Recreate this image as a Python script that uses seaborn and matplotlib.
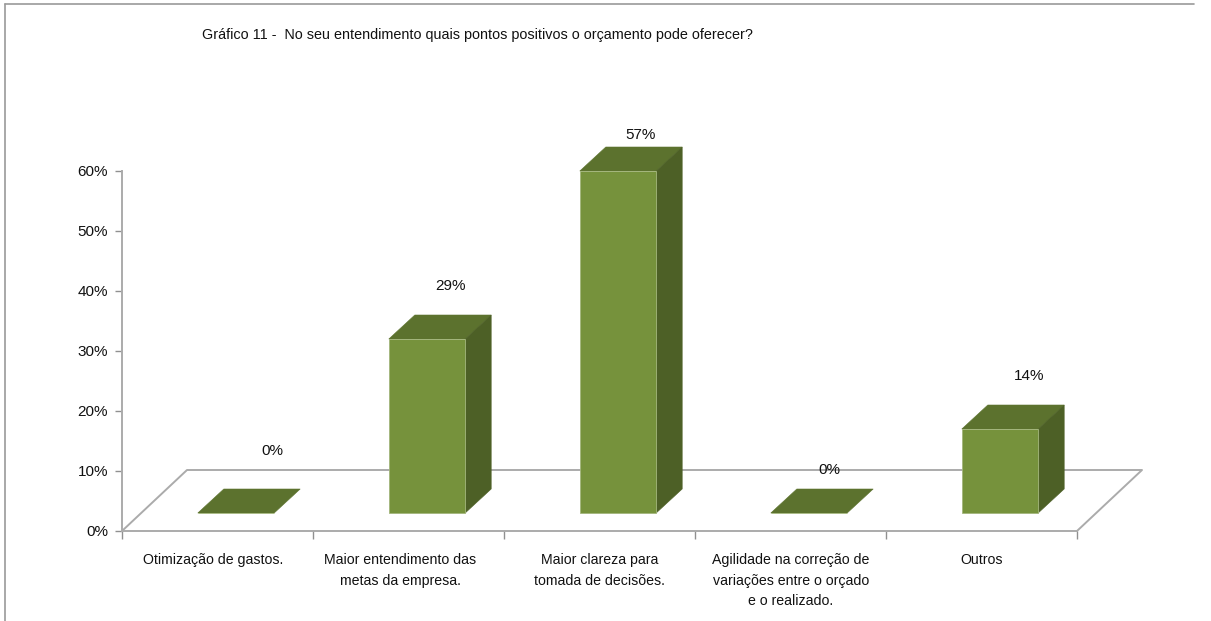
import matplotlib
matplotlib.use("Agg")
import matplotlib.pyplot as plt
from matplotlib.patches import Polygon
from matplotlib.ticker import FixedLocator
import pandas as pd
import seaborn as sns

# Survey answers, in percent
categories = [
    "Otimização de gastos.",
    "Maior entendimento das\nmetas da empresa.",
    "Maior clareza para\ntomada de decisões.",
    "Agilidade na correção de\nvariações entre o orçado\ne o realizado.",
    "Outros",
]
values = [0, 29, 57, 0, 14]
y_ticks = [0, 10, 20, 30, 40, 50, 60]
chart_title = "Gráfico 11 -  No seu entendimento quais pontos positivos o orçamento pode oferecer?"

sns.set_theme(style="white")
plt.rcParams["font.family"] = ["Liberation Sans", "DejaVu Sans"]

W, H = 1211, 621
fig = plt.figure(figsize=(W / 100, H / 100), dpi=100, facecolor="white")

# Axes rectangle follows the front edge of the floor and the vertical axis
left, right, top, bottom = 122, 1077, 171, 531
ax = fig.add_axes([left / W, 1 - bottom / H, (right - left) / W, (bottom - top) / H])
ax.patch.set_alpha(0)

FRONT, TOP, SIDE = "#76923c", "#5c722e", "#4d6026"
EDGE = "#a3b67c"
AXIS = "#ababab"
TEXT = "#111111"

px_x = 191.0                 # pixels per category
px_y = 6.0                   # pixels per percentage point
depth_x = 26 / px_x          # bar depth in data units
depth_y = 24 / px_y
floor_x = 65 / px_x          # floor depth in data units
floor_y = 61 / px_y
bar_lift = 18 / px_y         # bars stand slightly behind the front edge
x0 = -114 / px_x             # left limit, which puts the first bar off-centre in its slot

df = pd.DataFrame({"categoria": categories, "percentual": values})
sns.barplot(
    data=df, x="categoria", y="percentual", color=FRONT, saturation=1,
    width=0.40, bottom=bar_lift, ax=ax, edgecolor=EDGE, linewidth=0.6, zorder=5,
)
ax.set_xlim(x0, x0 + 5)
ax.set_ylim(0, 60)
ax.set_xlabel("")
ax.set_ylabel("")

# Floor: back edge and the two receding side edges
floor_style = dict(color=AXIS, lw=1.4, clip_on=False, zorder=2, solid_capstyle="round")
ax.plot([x0, x0 + floor_x, x0 + 5 + floor_x, x0 + 5],
        [0, floor_y, floor_y, 0], **floor_style)

# Extruded top and side faces, built from each drawn bar
for patch in list(ax.patches):
    x, y = patch.get_x(), patch.get_y()
    w, h = patch.get_width(), patch.get_height()
    top_face = [(x, y + h), (x + w, y + h), (x + w + depth_x, y + h + depth_y), (x + depth_x, y + h + depth_y)]
    ax.add_patch(Polygon(top_face, closed=True, fc=TOP, ec=TOP, lw=0.4, clip_on=False, zorder=4))
    if h > 0:
        side_face = [(x + w, y), (x + w + depth_x, y + depth_y), (x + w + depth_x, y + h + depth_y), (x + w, y + h)]
        ax.add_patch(Polygon(side_face, closed=True, fc=SIDE, ec=SIDE, lw=0.4, clip_on=False, zorder=4))

# Value labels: offsets from the bar top in pixels
label_dx = [36, 23, 23, 20, 29]
label_dy = [62, 53, 36, 43, 53]
for patch, value, dx, dy in zip(ax.patches, values, label_dx, label_dy):
    ax.annotate(f"{value}%", (patch.get_x() + patch.get_width() / 2, patch.get_y() + patch.get_height()),
                xytext=(dx, dy), textcoords="offset pixels", ha="center", va="center",
                fontsize=11, color=TEXT, annotation_clip=False, zorder=6)

# Axis styling
sns.despine(ax=ax, top=True, right=True)
for side in ("left", "bottom"):
    ax.spines[side].set_color(AXIS)
    ax.spines[side].set_linewidth(1.4)
ax.set_yticks(y_ticks, [f"{t}%" for t in y_ticks], fontsize=11, color=TEXT)
ax.tick_params(axis="y", left=True, length=5, width=1, color="#909090", pad=5)

# Category names sit mid-slot, nudged in pixels; the ticks mark the slot boundaries
label_nudge = [-4, -8.5, 0, 0.5, 0.5]
ax.set_xticks([i + x0 + 0.5 + n / px_x for i, n in enumerate(label_nudge)], categories,
              fontsize=10.2, color=TEXT, linespacing=1.6)
ax.tick_params(axis="x", bottom=False, pad=10)
ax.xaxis.set_minor_locator(FixedLocator([x0 + i for i in range(len(categories) + 1)]))
ax.tick_params(axis="x", which="minor", bottom=True, length=6, width=1, color="#909090")

fig.text(202 / W, 1 - 35 / H, chart_title, fontsize=10.4, color=TEXT, ha="left", va="center")

# Outer chart frame: only the top and left edges are in view
fig.add_artist(plt.Line2D([5 / W, 1194 / W], [1 - 4 / H, 1 - 4 / H], color="#9a9a9a", lw=1.2))
fig.add_artist(plt.Line2D([5 / W, 5 / W], [1 - 4 / H, 0], color="#9a9a9a", lw=1.2))

fig.savefig("out.png", dpi=100)
